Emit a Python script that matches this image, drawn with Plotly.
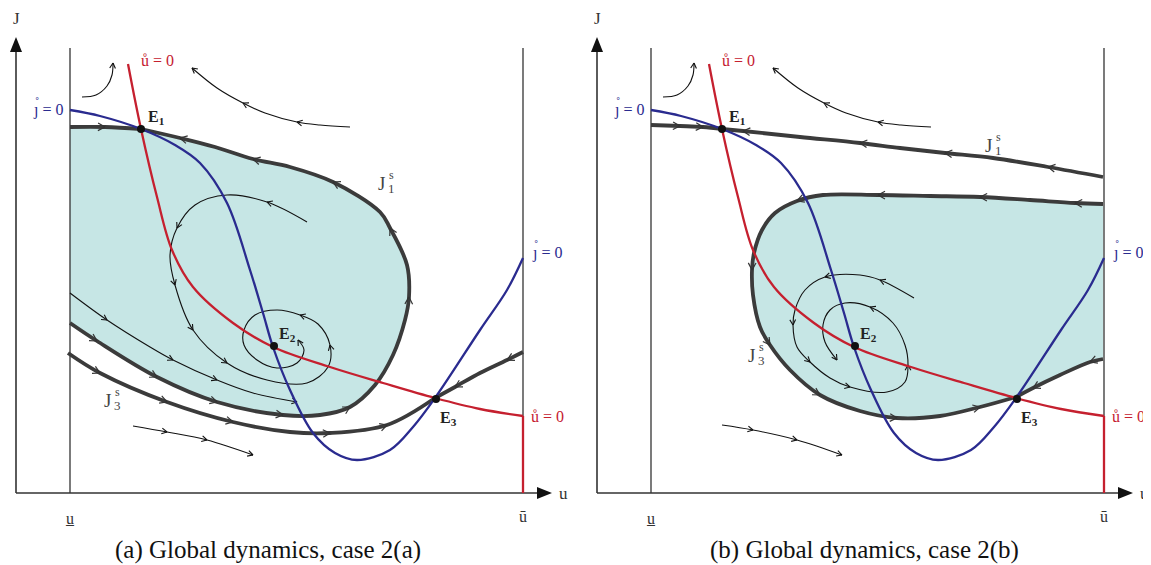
import numpy as np
import plotly.graph_objects as go

# Phase diagrams of the (u, J) system, two cases side by side.
# Coordinates (panel (a) frame);
# panel (b) re-uses the shared elements shifted by PANEL_SHIFT.

PANEL_SHIFT = [0, 581]

# ---- shared elements (panel a frame) ----
axis_origin = (16, 493)
u_low, u_high = 70, 523
frame_top = 48

red_u = [128, 141, 157, 172, 193, 233, 273, 330, 383, 435, 480, 523]
red_j = [64, 129, 197, 250, 287, 323, 347, 367, 383, 398, 409, 416]

blue_u = [70, 100, 141, 175, 200, 227, 250, 263, 273, 290, 313, 335, 357, 390, 413, 435, 480, 507, 523]
blue_j = [110, 116, 129, 145, 163, 203, 270, 313, 347, 390, 433, 453, 460, 450, 427, 398, 330, 290, 258]

eq_u = [141, 274, 436]
eq_j = [129, 346, 399]
eq_names = ["E<sub>1</sub>", "E<sub>2</sub>", "E<sub>3</sub>"]

small_u = [82, 96, 107, 112, 113]
small_j = [97, 95, 86, 75, 63]
small_arrows = [-1]

top_u = [350, 320, 297, 265, 243, 217, 192]
top_j = [127, 125, 122, 113, 103, 88, 68]
top_arrows = [2, 4, -1]

# ---- panel (a) ----
a_j1_left_u = [70, 105, 141]
a_j1_left_j = [127, 127, 129]
a_j1_left_arrows = [1]

a_j1_u = [70, 97, 157, 217, 283, 320, 350, 375, 393, 405, 409, 407, 390, 380, 333, 290, 253, 215, 180, 141]
a_j1_j = [323, 341, 377, 402, 415, 415, 407, 385, 355, 320, 297, 265, 228, 212, 182, 167, 159, 147, 138, 129]
a_j1_arrows = [1, 2, 3, 4, 6, 10, 12, 14, 16, 18]

a_j3_u = [68, 100, 167, 233, 290, 330, 387, 435]
a_j3_j = [353, 373, 402, 422, 432, 433, 425, 398]
a_j3_arrows = [1, 2, 3, 5, 6]

a_j3r_u = [523, 507, 480, 455, 435]
a_j3r_j = [352, 360, 373, 387, 398]
a_j3r_arrows = [1, 3]

a_thin_u = [70, 107, 150, 173, 217, 253, 297]
a_thin_j = [293, 320, 347, 360, 380, 393, 402]
a_thin_arrows = [1, 3, 4, -1]

a_spiral_u = [307, 267, 227, 195, 177, 170, 175, 193, 227, 267, 307, 328, 330, 318, 300, 277, 255, 244, 244, 257, 277, 297, 304, 298]
a_spiral_j = [222, 202, 195, 205, 228, 255, 285, 330, 363, 380, 383, 367, 345, 324, 315, 310, 315, 330, 345, 360, 368, 363, 350, 340]
a_spiral_arrows = [1, 4, 6, 7, 8, 12, 14, -1]

a_low_u = [133, 167, 207, 253]
a_low_j = [426, 432, 440, 455]
a_low_arrows = [1, 2, -1]

# ---- panel (b), absolute coordinates ----
b_j1_left_u = [651, 680, 703, 722]
b_j1_left_j = [125, 126, 127, 129]
b_j1_left_arrows = [1, 2]

b_j1_u = [1103, 1048, 993, 945, 900, 860, 800, 743, 722]
b_j1_j = [177, 167, 158, 153, 148, 143, 137, 131, 129]
b_j1_arrows = [1, 3, 5, 7]

b_j3_u = [1103, 1075, 1030, 980, 930, 878, 823, 797, 775, 762, 754, 752, 753, 760, 770, 790, 820, 860, 897, 940, 980, 1016]
b_j3_j = [204, 203, 200, 197, 196, 195, 195, 201, 213, 230, 253, 270, 295, 327, 345, 370, 395, 411, 418, 416, 407, 397]
b_j3_arrows = [1, 3, 5, 7, 11, 14, 16, 18, 20]

b_j3r_u = [1103, 1090, 1060, 1033, 1016]
b_j3r_j = [359, 362, 375, 388, 397]
b_j3r_arrows = [1, 3]

b_spiral_u = [914, 880, 860, 825, 805, 795, 793, 797, 810, 830, 850, 887, 905, 908, 905, 893, 870, 845, 830, 823, 825, 837]
b_spiral_j = [298, 280, 275, 277, 290, 310, 325, 347, 362, 378, 387, 392, 382, 365, 345, 323, 307, 303, 310, 325, 342, 360]
b_spiral_arrows = [1, 3, 6, 8, 10, 13, 16, -1]

b_low_u = [722, 753, 797, 842]
b_low_j = [425, 430, 440, 455]
b_low_arrows = [1, 2, -1]

captions = ["(a) Global dynamics, case 2(a)", "(b) Global dynamics, case 2(b)"]

RED = "#c5202f"
BLUE = "#2a2b8f"
THICK = "#3b3b3b"
FILL = "#c6e6e5"
SERIF = "Liberation Serif"
PAGE = 8  # default body margin of the html page

fig = go.Figure()


def shift(xs, dx):
    return [x + dx for x in xs]


def line(xs, ys, color, width, spline=True):
    fig.add_trace(go.Scatter(x=xs, y=ys, mode="lines", hoverinfo="skip",
                             line=dict(color=color, width=width,
                                       shape="spline" if spline else "linear")))


def arrows(xs, ys, idx, color, width, size):
    # chevron heads at chosen control points, pointing along the path
    ax, ay = [], []
    n = len(xs)
    for i in idx:
        i = i % n
        i0, i1 = max(i - 1, 0), min(i + 1, n - 1)
        dx, dy = xs[i1] - xs[i0], ys[i1] - ys[i0]
        d = np.hypot(dx, dy)
        bx, by = -dx / d, -dy / d
        for s in (0.5, -0.5):
            c, sn = np.cos(s), np.sin(s)
            wx = xs[i] + size * (bx * c - by * sn)
            wy = ys[i] + size * (bx * sn + by * c)
            ax += [wx, xs[i], None]
            ay += [wy, ys[i], None]
    fig.add_trace(go.Scatter(x=ax, y=ay, mode="lines", hoverinfo="skip",
                             line=dict(color=color, width=width)))


def curve(xs, ys, idx, color, width, head_color, head_w, head_size):
    line(xs, ys, color, width)
    arrows(xs, ys, idx, head_color, head_w, head_size)


def thin(xs, ys, idx):
    curve(xs, ys, idx, "#111111", 1.1, "#111111", 1.1, 6)


def thick(xs, ys, idx):
    curve(xs, ys, idx, THICK, 3.8, "#333333", 1.2, 8)


# shaded basins
fa_u = a_j1_left_u + a_j1_u[::-1][1:]
fa_j = a_j1_left_j + a_j1_j[::-1][1:]
fig.add_trace(go.Scatter(x=fa_u, y=fa_j, fill="toself", fillcolor=FILL, mode="lines",
                         line=dict(width=0, shape="spline"), hoverinfo="skip"))
fb_u = b_j3_u + b_j3r_u[::-1][1:]
fb_j = b_j3_j + b_j3r_j[::-1][1:]
fig.add_trace(go.Scatter(x=fb_u, y=fb_j, fill="toself", fillcolor=FILL, mode="lines",
                         line=dict(width=0, shape="spline"), hoverinfo="skip"))

for dx in PANEL_SHIFT:
    ox, oy = axis_origin
    # bounds u_ and u-bar
    line([u_low + dx, u_low + dx], [frame_top, oy], "#333333", 1.3, False)
    line([u_high + dx, u_high + dx], [frame_top, red_j[-1]], "#333333", 1.3, False)
    # axes with arrow heads
    line([ox + dx, ox + dx], [oy, 50], "#333333", 1.6, False)
    line([ox + dx, 540 + dx], [oy, oy], "#333333", 1.6, False)
    fig.add_trace(go.Scatter(x=[ox + dx - 6, ox + dx, ox + dx + 6, ox + dx - 6],
                             y=[52, 37, 52, 52], fill="toself", fillcolor="#111111",
                             mode="lines", line=dict(width=0), hoverinfo="skip"))
    fig.add_trace(go.Scatter(x=[537 + dx, 552 + dx, 537 + dx, 537 + dx],
                             y=[oy - 6, oy, oy + 6, oy - 6], fill="toself", fillcolor="#111111",
                             mode="lines", line=dict(width=0), hoverinfo="skip"))
    # shared thin trajectories
    thin(shift(small_u, dx), small_j, small_arrows)
    thin(shift(top_u, dx), top_j, top_arrows)

# panel (a) trajectories
thin(a_thin_u, a_thin_j, a_thin_arrows)
thin(a_spiral_u, a_spiral_j, a_spiral_arrows)
thin(a_low_u, a_low_j, a_low_arrows)
thick(a_j1_left_u, a_j1_left_j, a_j1_left_arrows)
thick(a_j1_u, a_j1_j, a_j1_arrows)
thick(a_j3_u, a_j3_j, a_j3_arrows)
thick(a_j3r_u, a_j3r_j, a_j3r_arrows)

# panel (b) trajectories
thin(b_spiral_u, b_spiral_j, b_spiral_arrows)
thin(b_low_u, b_low_j, b_low_arrows)
thick(b_j1_left_u, b_j1_left_j, b_j1_left_arrows)
thick(b_j1_u, b_j1_j, b_j1_arrows)
thick(b_j3_u, b_j3_j, b_j3_arrows)
thick(b_j3r_u, b_j3r_j, b_j3r_arrows)

ann = []


def text(x, y, s, size=14, color="#222222", family=SERIF, xanchor="center"):
    ann.append(dict(x=x, y=y, xref="x", yref="y", text=s, showarrow=False,
                    font=dict(family=family, size=size, color=color), xanchor=xanchor))


for k, dx in enumerate(PANEL_SHIFT):
    # nullclines
    line(shift(red_u, dx), red_j, RED, 2.3)
    line([u_high + dx, u_high + dx], [red_j[-1], axis_origin[1]], RED, 2.3, False)
    line(shift(blue_u, dx), blue_j, BLUE, 2.3)
    fig.add_trace(go.Scatter(x=shift(eq_u, dx), y=eq_j, mode="markers", hoverinfo="skip",
                             marker=dict(color="#111111", size=8)))
    text(axis_origin[0] + dx, 18, "J", 17, "#333333")
    text(563 + dx, 493, "u", 17, "#333333")
    text(u_low + dx, 518, "u\u0332", 16, "#333333")
    text(u_high + dx, 516, "\u016b", 16, "#333333")
    text(139 + dx, 60, "\u016f = 0", 16, RED, xanchor="left")
    text(31 + dx, 110, "\u0237 = 0", 16, BLUE, xanchor="left")
    text(37 + dx, 101, "\u02da", 13, BLUE)
    text(530 + dx, 253, "\u0237 = 0", 16, BLUE, xanchor="left")
    text(536 + dx, 244, "\u02da", 13, BLUE)
    text(529 + dx, 416, "\u016f = 0", 16, RED, xanchor="left")
    for name, eu, ej, ox, oy in zip(eq_names, eq_u, eq_j, [5, 3, 2], [-12, -12, 19]):
        text(eu + dx + ox, ej + oy, "<b>" + name + "</b>", 16, "#222222", xanchor="left")
    text([268, 864][k], 550, captions[k], 25, "#111111")

# stable manifold labels J_1^s, J_3^s
for x, y, sub in [(389, 183, "1"), (115, 400, "3"), (996, 145, "1"), (759, 355, "3")]:
    text(x - 2, y, "J", 19, "#444444", xanchor="right")
    text(x - 2, y - 8, "s", 12, "#444444", xanchor="left")
    text(x - 3, y + 5, sub, 13, "#444444", xanchor="left")

# the page keeps an 8px body margin, so the axes are offset by that margin
fig.update_layout(
    width=1151 - PAGE, height=565 - PAGE,
    margin=dict(l=0, r=0, t=0, b=0),
    xaxis=dict(range=[PAGE, 1151], visible=False),
    yaxis=dict(range=[565, PAGE], visible=False),
    plot_bgcolor="white", paper_bgcolor="white",
    showlegend=False,
    annotations=ann,
)

fig.write_html("out.html")
